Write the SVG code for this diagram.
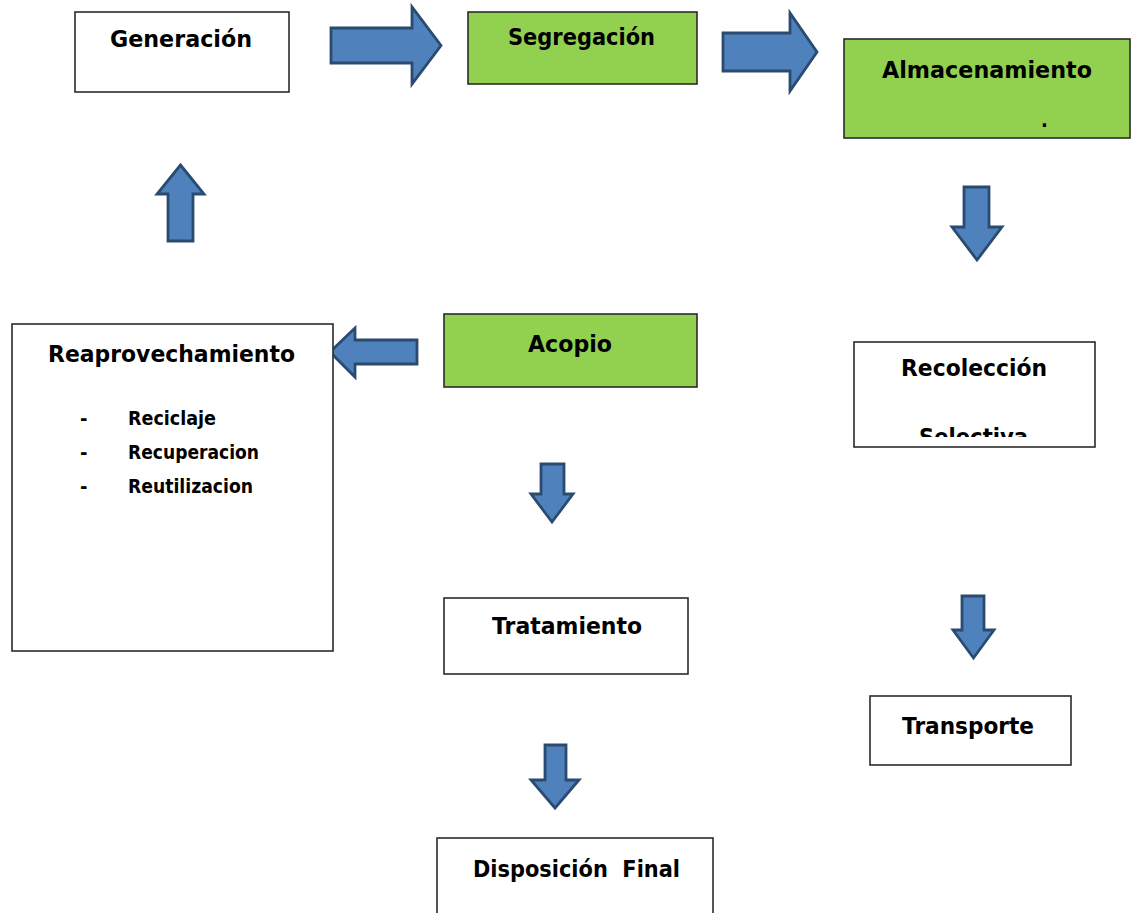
<svg xmlns="http://www.w3.org/2000/svg" width="1132" height="913" viewBox="0 0 1132 913">
<style>
.box{fill:#ffffff;stroke:#2b2b2b;stroke-width:1.6}
.green{fill:#92D050;stroke:#2b2b2b;stroke-width:1.6}
.t{font-family:"DejaVu Sans","Liberation Sans",sans-serif;font-weight:bold;font-size:22.5px;fill:#000}
.s{font-family:"DejaVu Sans Condensed","DejaVu Sans","Liberation Sans",sans-serif;font-weight:bold;font-size:20px;fill:#000}
.arrow{fill:#4F81BD;stroke:#2A4A70;stroke-width:2.8;stroke-linejoin:miter}
</style>
<defs>
<clipPath id="clipRec"><rect x="855" y="343" width="239" height="94"/></clipPath>
</defs>
<rect width="1132" height="913" fill="#ffffff"/>
<g id="connectors">
<polygon class="arrow" points="331,28 412,28 412,7 441,45.5 412,84 412,63 331,63"/>
<polygon class="arrow" points="723,33 790,33 790,13 817,52 790,91 790,71 723,71"/>
<polygon class="arrow" points="180.5,165 204,194 193,194 193,241 168,241 168,194 157,194"/>
<polygon class="arrow" points="330,352 355,328 355,340 417,340 417,364 355,364 355,377"/>
<polygon class="arrow" points="964,187 989,187 989,227 1002,227 977,260 952,227 964,227"/>
<polygon class="arrow" points="541,464 564,464 564,494 573,494 552,522 531,494 541,494"/>
<polygon class="arrow" points="962,596 984,596 984,630 994,630 973.5,658 953,630 962,630"/>
<polygon class="arrow" points="545,745 566,745 566,780 579,780 555,808 531,780 545,780"/>
</g>
<g id="generacion">
<rect class="box" x="75" y="12" width="214" height="80"/>
<text class="t" x="110" y="47" textLength="142" lengthAdjust="spacingAndGlyphs">Generación</text>
</g>
<g id="segregacion">
<rect class="green" x="468" y="12" width="229" height="72"/>
<text class="t" x="508" y="45" textLength="147" lengthAdjust="spacingAndGlyphs">Segregación</text>
</g>
<g id="almacenamiento">
<rect class="green" x="844" y="39" width="286" height="99"/>
<text class="t" x="882" y="78" textLength="210" lengthAdjust="spacingAndGlyphs">Almacenamiento</text>
<text class="s" x="1041" y="127">.</text>
</g>
<g id="recoleccion">
<rect class="box" x="854" y="342" width="241" height="105"/>
<text class="t" x="901" y="376" textLength="146" lengthAdjust="spacingAndGlyphs">Recolección</text>
<g clip-path="url(#clipRec)">
<text class="t" x="919" y="445" textLength="109" lengthAdjust="spacingAndGlyphs">Selectiva</text>
</g>
</g>
<g id="transporte">
<rect class="box" x="870" y="696" width="201" height="69"/>
<text class="t" x="902" y="734" textLength="132" lengthAdjust="spacingAndGlyphs">Transporte</text>
</g>
<g id="acopio">
<rect class="green" x="444" y="314" width="253" height="73"/>
<text class="t" x="528" y="352" textLength="84" lengthAdjust="spacingAndGlyphs">Acopio</text>
</g>
<g id="reaprovechamiento">
<rect class="box" x="12" y="324" width="321" height="327"/>
<text class="t" x="48" y="362" textLength="247" lengthAdjust="spacingAndGlyphs">Reaprovechamiento</text>
<text class="s" x="80" y="425">-</text>
<text class="s" x="128" y="425" textLength="88" lengthAdjust="spacingAndGlyphs">Reciclaje</text>
<text class="s" x="80" y="459">-</text>
<text class="s" x="128" y="459" textLength="131" lengthAdjust="spacingAndGlyphs">Recuperacion</text>
<text class="s" x="80" y="493">-</text>
<text class="s" x="128" y="493" textLength="125" lengthAdjust="spacingAndGlyphs">Reutilizacion</text>
</g>
<g id="tratamiento">
<rect class="box" x="444" y="598" width="244" height="76"/>
<text class="t" x="492" y="634" textLength="150" lengthAdjust="spacingAndGlyphs">Tratamiento</text>
</g>
<g id="disposicion">
<rect class="box" x="437" y="838" width="276" height="90"/>
<text class="t" x="473" y="877" textLength="207" lengthAdjust="spacingAndGlyphs">Disposición&#160; Final</text>
</g>
</svg>
